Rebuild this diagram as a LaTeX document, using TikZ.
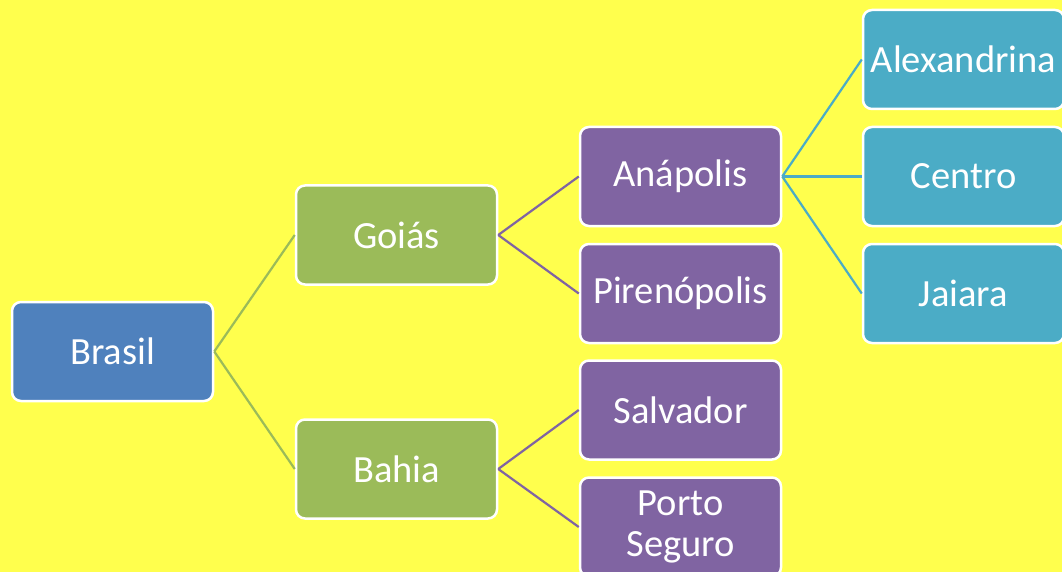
\documentclass[tikz,border=0pt]{standalone}
\usepackage{fontspec}
\setmainfont{Carlito}
\definecolor{bgyellow}{RGB}{255,255,77}
\definecolor{cblue}{RGB}{79,129,189}
\definecolor{cgreen}{RGB}{155,187,89}
\definecolor{cpurple}{RGB}{128,100,162}
\definecolor{cteal}{RGB}{75,172,198}
\tikzset{
  box/.style={draw=white, line width=2.5pt, rounded corners=9pt, minimum width=201pt, minimum height=99pt, inner sep=0pt, text=white, align=center, font=\fontsize{38.5}{41}\selectfont},
  bluebox/.style={box, fill=cblue},
  greenbox/.style={box, fill=cgreen},
  purplebox/.style={box, fill=cpurple},
  tealbox/.style={box, fill=cteal},
  link/.style={line width=2.2pt}
}
\begin{document}
\begin{tikzpicture}[x=1pt,y=-1pt]
\useasboundingbox[fill=bgyellow] (0,0) rectangle (1062,572);
\clip (0,0) rectangle (1062,572);
\node[bluebox] (brasil) at (112.5,351.5) {Brasil};
\node[greenbox] (goias) at (396.5,235) {Goiás};
\node[greenbox] (bahia) at (396.5,469) {Bahia};
\node[purplebox] (anapolis) at (680.5,176.5) {Anápolis};
\node[purplebox] (pireno) at (680.5,293.5) {Pirenópolis};
\node[purplebox] (salvador) at (680.5,410) {Salvador};
\node[purplebox] (porto) at (680.5,527) {Porto\\Seguro};
\node[tealbox] (alex) at (963.5,59.5) {Alexandrina};
\node[tealbox] (centro) at (963.5,176.5) {Centro};
\node[tealbox] (jaiara) at (963.5,293.5) {Jaiara};
\draw[link, cgreen] (brasil.east) -- (goias.west);
\draw[link, cgreen] (brasil.east) -- (bahia.west);
\draw[link, cpurple] (goias.east) -- (anapolis.west);
\draw[link, cpurple] (goias.east) -- (pireno.west);
\draw[link, cpurple] (bahia.east) -- (salvador.west);
\draw[link, cpurple] (bahia.east) -- (porto.west);
\draw[link, cteal] (anapolis.east) -- (alex.west);
\draw[link, cteal] (anapolis.east) -- (centro.west);
\draw[link, cteal] (anapolis.east) -- (jaiara.west);
\end{tikzpicture}
\end{document}
